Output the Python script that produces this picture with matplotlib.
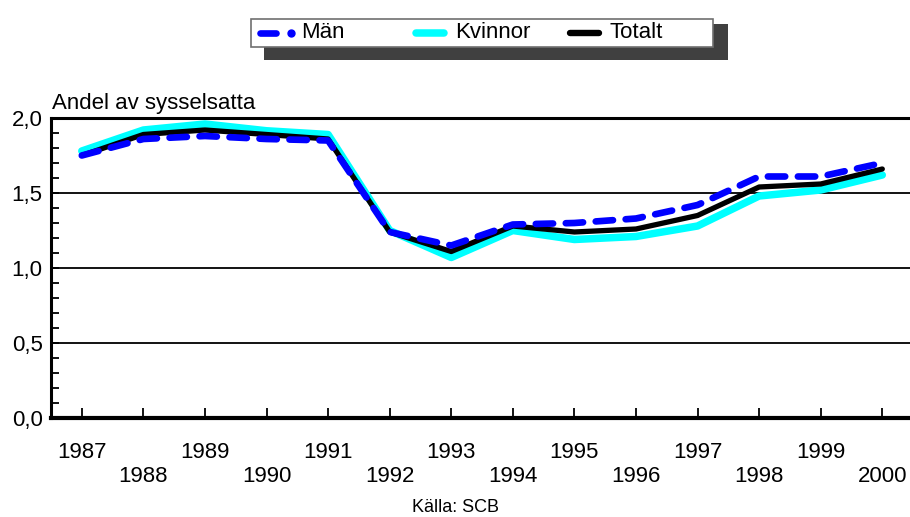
import matplotlib
matplotlib.use("Agg")
import matplotlib.pyplot as plt
from matplotlib.lines import Line2D
from matplotlib.patches import Rectangle
from matplotlib.ticker import FuncFormatter, MultipleLocator

years = list(range(1987, 2001))
man = [1.75, 1.86, 1.88, 1.86, 1.85, 1.24, 1.15, 1.29, 1.30, 1.33, 1.42, 1.61, 1.61, 1.70]
kvinnor = [1.78, 1.92, 1.96, 1.915, 1.89, 1.25, 1.07, 1.25, 1.19, 1.21, 1.28, 1.48, 1.52, 1.62]
totalt = [1.75, 1.89, 1.92, 1.89, 1.86, 1.24, 1.11, 1.28, 1.24, 1.26, 1.35, 1.54, 1.56, 1.66]
series_names = ["Män", "Kvinnor", "Totalt"]
ylabel = "Andel av sysselsatta"
source = "Källa: SCB"

W, H = 910, 517
plt.rcParams['font.family'] = ['Liberation Sans', 'DejaVu Sans']

fig = plt.figure(figsize=(W / 100, H / 100), dpi=100)
ax = fig.add_axes([51 / W, 1 - 418 / H, (W - 51) / W, 300 / H])

BLUE = "#0000ff"
CYAN = "#00ffff"

ax.plot(years, kvinnor, color=CYAN, lw=5.4, solid_capstyle="round",
        solid_joinstyle="round", zorder=3)
ax.plot(years, totalt, color="black", lw=3.8, solid_capstyle="round",
        solid_joinstyle="round", zorder=4)
ax.plot(years, man, color=BLUE, lw=4.8, dashes=(2.6, 1.9),
        dash_capstyle="round", zorder=5)

ax.set_xlim(1986.5, 2000.45)
ax.set_ylim(0, 2.0)

# gridlines
for v in [0.5, 1.0, 1.5]:
    ax.axhline(v, color="black", lw=1.3, zorder=1)

ax.spines["right"].set_visible(False)
ax.spines["top"].set_linewidth(2.2)
ax.spines["left"].set_linewidth(2.2)
ax.spines["bottom"].set_linewidth(3.0)

ax.yaxis.set_major_locator(MultipleLocator(0.5))
ax.yaxis.set_minor_locator(MultipleLocator(0.1))
ax.yaxis.set_major_formatter(FuncFormatter(lambda v, p: f"{v:.1f}".replace(".", ",")))
ax.tick_params(axis="y", which="both", direction="in", length=6, width=1.3,
               labelsize=16, pad=6)

ax.set_xticks(years)
ax.set_xticklabels([str(y) if y % 2 else "\n" + str(y) for y in years])
ax.tick_params(axis="x", direction="in", length=7, width=1.3, labelsize=16, pad=17)

fig.text(52 / W, 1 - 109 / H, ylabel, fontsize=16, va="baseline", ha="left")
fig.text(455 / W, 1 - 508 / H, source, fontsize=13, ha="center", va="center")


def px(x, y):
    return (x / W, 1 - y / H)


# legend with drop shadow
x0, y0 = px(264, 60)
fig.add_artist(Rectangle((x0, y0), (728 - 264) / W, (60 - 24) / H,
                         transform=fig.transFigure, color="#404040", lw=0, zorder=10))
x0, y0 = px(251, 47)
fig.add_artist(Rectangle((x0, y0), (713 - 251) / W, (47 - 19) / H,
                         transform=fig.transFigure, facecolor="white",
                         edgecolor="#707070", lw=1.2, zorder=11))

ly = 33
handles = [
    ((260, 276), BLUE, 4.8, 301),
    ((416, 444), CYAN, 5.4, 455),
    ((570, 599), "black", 4.6, 609),
]
for name, (xs, color, lw, tx) in zip(series_names, handles):
    (a, b) = xs
    xa, ya = px(a, ly)
    xb, yb = px(b, ly)
    fig.add_artist(Line2D([xa, xb], [ya, yb], color=color, lw=lw,
                          solid_capstyle="round", transform=fig.transFigure, zorder=12))
    fig.text(tx / W, 1 - ly / H, name, fontsize=16, va="center", ha="left", zorder=12)
xd, yd = px(291, ly)
fig.add_artist(Line2D([xd], [yd], marker="o", ms=5, color=BLUE, lw=0,
                      transform=fig.transFigure, zorder=12))

fig.savefig("out.png", dpi=100)
